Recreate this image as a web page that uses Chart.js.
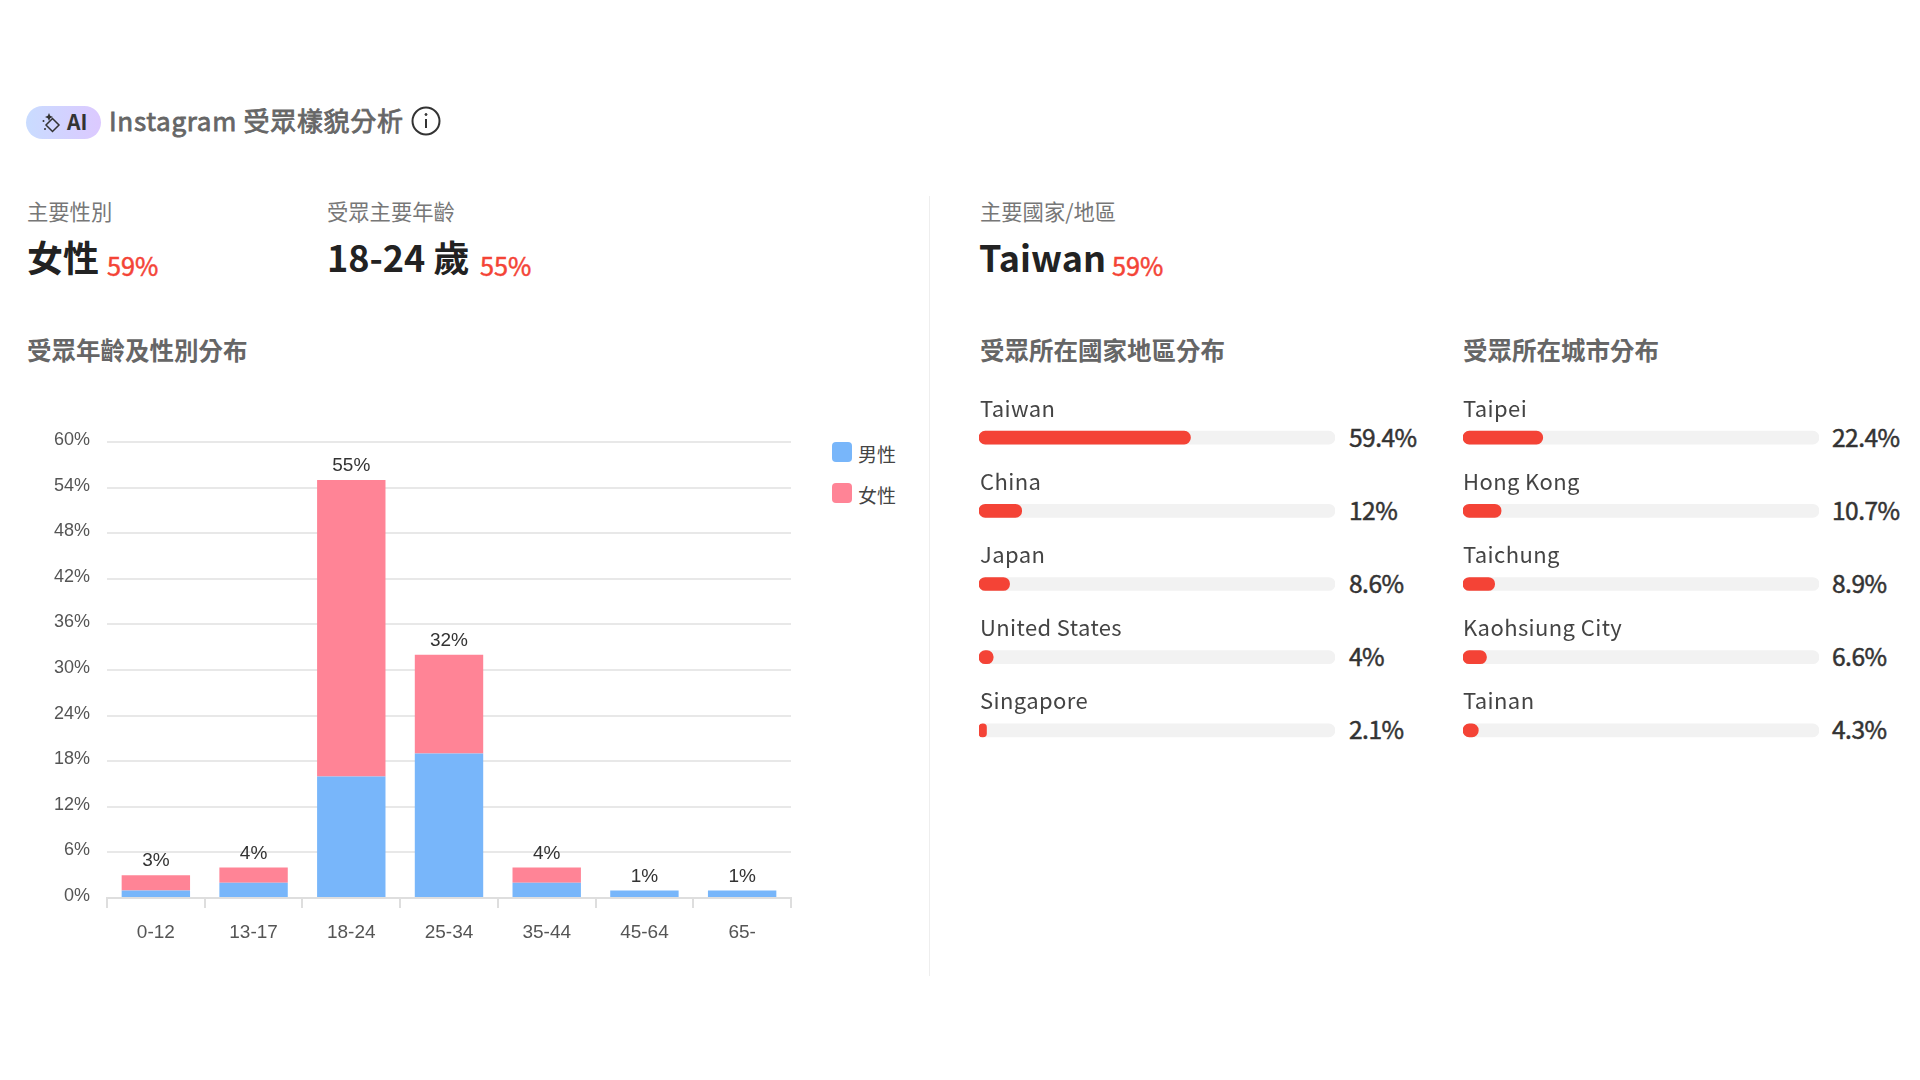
<!DOCTYPE html>
<html lang="zh-Hant">
<head>
    <meta charset="UTF-8">
    <title>Instagram 受眾樣貌分析</title>
    <script src="https://cdn.jsdelivr.net/npm/chart.js"></script>
    <style>
        html, body { margin: 0; padding: 0; background: #fff; }
        body {
            width: 1920px; height: 1080px; position: relative; overflow: hidden;
            font-family: "Noto Sans CJK TC", "Noto Sans", sans-serif;
        }
        .abs { position: absolute; white-space: nowrap; line-height: 1; }
        canvas { position: absolute; display: block; }

        .pill {
            left: 26px; top: 106px; width: 75px; height: 33px; border-radius: 17px;
            background: linear-gradient(90deg, #c9dcff, #dcc9ff);
        }
        .pill svg { position: absolute; left: 0; top: 0; }
        .pill span { position: absolute; left: 41px; top: 5px; font-size: 21px; font-weight: 700; color: #333; line-height: 1; }
        .title { left: 109px; top: 107px; font-size: 26px; font-weight: 400; color: #666; letter-spacing: 0.7px; -webkit-text-stroke: 0.8px #666; }
        .info { left: 411px; top: 106px; }

        .label { top: 200px; font-size: 21.3px; color: #777; }
        .big { top: 238px; font-size: 36px; font-weight: 700; color: #222; }
        .pct { top: 253px; font-size: 25.3px; color: #f44336; -webkit-text-stroke: 0.5px #f44336; }
        .section { top: 338px; font-size: 24.5px; font-weight: 700; color: #666; }
        .divider { left: 929px; top: 196px; width: 1px; height: 780px; background: #eee; }

        .row-name { font-size: 22px; color: #444; letter-spacing: 0.4px; }
        .row-value { font-size: 24.5px; color: #333; letter-spacing: -0.5px; -webkit-text-stroke: 0.5px #333; }

        .swatch { width: 20px; height: 20px; left: 832px; border-radius: 4px; }
        .legend-text { left: 858px; font-size: 19px; color: #444; }
    </style>
</head>
<body>
    <div class="abs pill">
        <svg width="40" height="33" viewBox="0 0 40 33" fill="none" stroke="#333" stroke-width="1.5">
            <path d="M26.5 12.5 L33 19 L26.5 25.5 L20 19 Z"/>
            <path d="M23 7 L24.2 9.8 L27 11 L24.2 12.2 L23 15 L21.8 12.2 L19 11 L21.8 9.8 Z" fill="#333" stroke="none"/>
            <circle cx="17.5" cy="15" r="1" fill="#333" stroke="none"/>
            <circle cx="19" cy="23" r="1" fill="#333" stroke="none"/>
        </svg>
        <span>AI</span>
    </div>
    <div class="abs title">Instagram 受眾樣貌分析</div>
    <svg class="abs info" width="30" height="30" viewBox="0 0 30 30" fill="none" stroke="#333" stroke-width="2">
        <circle cx="15" cy="15" r="13.5"/>
        <path d="M15 13 V22"/>
        <circle cx="15" cy="8.5" r="1" fill="#333" stroke-width="1"/>
    </svg>

    <div class="abs label" style="left:27px">主要性別</div>
    <div class="abs big" style="left:27px">女性</div>
    <div class="abs pct" style="left:107px">59%</div>

    <div class="abs label" style="left:327px">受眾主要年齡</div>
    <div class="abs big" style="left:327px">18-24 歲</div>
    <div class="abs pct" style="left:480px">55%</div>

    <div class="abs label" style="left:980px">主要國家/地區</div>
    <div class="abs big" style="left:979px">Taiwan</div>
    <div class="abs pct" style="left:1112px">59%</div>

    <div class="abs section" style="left:27px">受眾年齡及性別分布</div>
    <div class="abs section" style="left:980px">受眾所在國家地區分布</div>
    <div class="abs section" style="left:1463px">受眾所在城市分布</div>

    <div class="abs divider"></div>

    <canvas id="ageChart" width="766" height="540" style="left:27px;top:420px"></canvas>
    <div id="legend"></div>
    <canvas id="countryChart" width="356" height="366" style="left:979px;top:401px"></canvas>
    <canvas id="cityChart" width="356" height="366" style="left:1463px;top:401px"></canvas>
    <div id="countryRows"></div>
    <div id="cityRows"></div>

    <script>
        // Age / gender chart
        const ageGroups = ["0-12", "13-17", "18-24", "25-34", "35-44", "45-64", "65-"];
        const maleValues = [1, 2, 16, 19, 2, 1, 1];
        const femaleValues = [2, 2, 39, 13, 2, 0, 0];
        const totalLabels = ["3%", "4%", "55%", "32%", "4%", "1%", "1%"];
        const seriesNames = ["男性", "女性"];
        const seriesColors = ["#78b6fa", "#ff8496"];

        // Country and city lists
        const countries = ["Taiwan", "China", "Japan", "United States", "Singapore"];
        const countryValues = [59.4, 12, 8.6, 4, 2.1];
        const countryLabels = ["59.4%", "12%", "8.6%", "4%", "2.1%"];
        const cities = ["Taipei", "Hong Kong", "Taichung", "Kaohsiung City", "Tainan"];
        const cityValues = [22.4, 10.7, 8.9, 6.6, 4.3];
        const cityLabels = ["22.4%", "10.7%", "8.9%", "6.6%", "4.3%"];
        const trackValues = [100, 100, 100, 100, 100];

        const chartFont = '"Liberation Sans", "Noto Sans CJK TC", sans-serif';

        // Totals above each stack
        const totalsPlugin = {
            id: "totals",
            afterDatasetsDraw(chart) {
                const ctx = chart.ctx;
                const top = chart.getDatasetMeta(1).data;
                ctx.save();
                ctx.font = "19px " + chartFont;
                ctx.fillStyle = "#333";
                ctx.textAlign = "center";
                ctx.textBaseline = "middle";
                top.forEach((bar, i) => ctx.fillText(totalLabels[i], bar.x, bar.y - 14));
                ctx.restore();
            }
        };

        new Chart(document.getElementById("ageChart"), {
            type: "bar",
            data: {
                labels: ageGroups,
                datasets: [
                    { label: seriesNames[0], data: maleValues, backgroundColor: seriesColors[0] },
                    { label: seriesNames[1], data: femaleValues, backgroundColor: seriesColors[1] }
                ]
            },
            options: {
                responsive: false,
                animation: false,
                layout: { padding: { top: 22, right: 2, bottom: 0, left: 0 } },
                datasets: { bar: { categoryPercentage: 0.7, barPercentage: 1 } },
                plugins: {
                    tooltip: { enabled: false },
                    legend: { display: false }
                },
                scales: {
                    x: {
                        stacked: true,
                        afterFit(scale) { scale.height = 62; },
                        border: { color: "#dedede", width: 2 },
                        grid: { drawOnChartArea: false, color: "#dedede", lineWidth: 2, tickLength: 10 },
                        ticks: { color: "#555", padding: 13, font: { size: 19, family: chartFont }, maxRotation: 0 }
                    },
                    y: {
                        stacked: true,
                        min: 0, max: 60,
                        // tick padding would otherwise push the top of the plot down
                        afterFit(scale) {
                            scale.width = 80;
                            scale.paddingTop = 0;
                            scale.paddingBottom = 0;
                        },
                        border: { display: false },
                        grid: { color: "#e8e8e8", lineWidth: 2, tickLength: 0 },
                        ticks: {
                            stepSize: 6, color: "#555", padding: 17, labelOffset: -2,
                            font: { size: 18, family: chartFont },
                            callback: v => v + "%"
                        }
                    }
                }
            },
            plugins: [totalsPlugin]
        });

        // Legend sits outside the canvas
        const legend = document.getElementById("legend");
        seriesNames.forEach((name, i) => {
            const top = 442 + i * 41;
            legend.insertAdjacentHTML("beforeend",
                `<div class="abs swatch" style="top:${top}px;background:${seriesColors[i]}"></div>` +
                `<div class="abs legend-text" style="top:${top + 2}px">${name}</div>`);
        });

        // Progress style bars, one chart per list
        function drawList(canvasId, names, values) {
            new Chart(document.getElementById(canvasId), {
                type: "bar",
                data: {
                    labels: names,
                    datasets: [
                        { data: values, backgroundColor: "#f44336", order: 0 },
                        { data: trackValues, backgroundColor: "#f2f2f2", order: 1 }
                    ]
                },
                options: {
                    indexAxis: "y",
                    responsive: false,
                    animation: false,
                    datasets: { bar: { grouped: false, barThickness: 13, borderRadius: 6.5, borderSkipped: false } },
                    plugins: { legend: { display: false }, tooltip: { enabled: false } },
                    scales: {
                        x: { display: false, min: 0, max: 100 },
                        y: { display: false }
                    }
                }
            });
        }
        drawList("countryChart", countries, countryValues);
        drawList("cityChart", cities, cityValues);

        // Row captions, placed on the same row pitch as the bars
        function drawRows(holderId, names, labels, left) {
            const holder = document.getElementById(holderId);
            names.forEach((name, i) => {
                const top = 396 + i * 73.1;
                holder.insertAdjacentHTML("beforeend",
                    `<div class="abs row-name" style="left:${left}px;top:${top}px">${name}</div>` +
                    `<div class="abs row-value" style="left:${left + 369}px;top:${top + 29}px">${labels[i]}</div>`);
            });
        }
        drawRows("countryRows", countries, countryLabels, 980);
        drawRows("cityRows", cities, cityLabels, 1463);
    </script>
</body>
</html>
